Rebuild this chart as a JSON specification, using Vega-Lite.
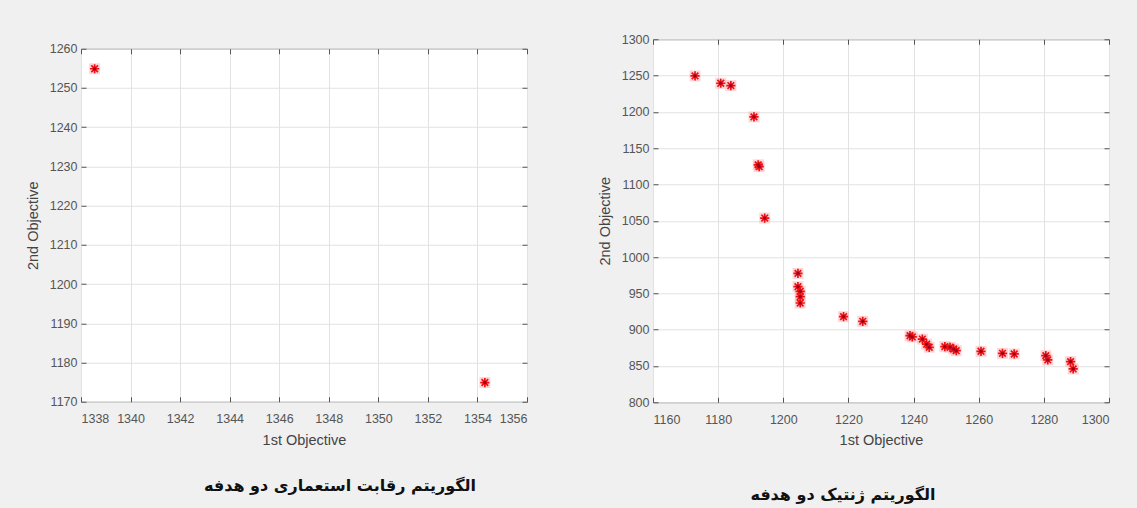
{
  "$schema": "https://vega.github.io/schema/vega-lite/v6.json",
  "background": "#f0f0f0",
  "padding": {"left": 24, "top": 32, "right": 27, "bottom": 5},
  "datasets": {
    "ica": [
      {"obj1": 1338.55, "obj2": 1254.9},
      {"obj1": 1354.3, "obj2": 1174.9}
    ],
    "ga": [
      {"obj1": 1172.9, "obj2": 1249.5},
      {"obj1": 1180.8, "obj2": 1239.4},
      {"obj1": 1183.9, "obj2": 1236.2},
      {"obj1": 1191.0, "obj2": 1193.1},
      {"obj1": 1192.3, "obj2": 1127.0},
      {"obj1": 1192.6, "obj2": 1124.5},
      {"obj1": 1194.3, "obj2": 1053.7},
      {"obj1": 1204.5, "obj2": 977.5},
      {"obj1": 1204.5, "obj2": 959.2},
      {"obj1": 1205.2, "obj2": 952.8},
      {"obj1": 1205.2, "obj2": 945.4},
      {"obj1": 1205.2, "obj2": 936.7},
      {"obj1": 1218.5, "obj2": 917.9},
      {"obj1": 1224.4, "obj2": 911.5},
      {"obj1": 1238.9, "obj2": 891.7},
      {"obj1": 1239.6, "obj2": 890.0},
      {"obj1": 1242.7, "obj2": 887.0},
      {"obj1": 1244.0, "obj2": 880.0},
      {"obj1": 1244.8, "obj2": 875.7},
      {"obj1": 1249.6, "obj2": 876.6},
      {"obj1": 1251.2, "obj2": 875.7},
      {"obj1": 1252.3, "obj2": 873.4},
      {"obj1": 1253.1, "obj2": 871.0},
      {"obj1": 1260.7, "obj2": 870.2},
      {"obj1": 1267.3, "obj2": 867.4},
      {"obj1": 1270.9, "obj2": 866.5},
      {"obj1": 1280.6, "obj2": 864.2},
      {"obj1": 1281.2, "obj2": 858.3},
      {"obj1": 1288.2, "obj2": 856.0},
      {"obj1": 1289.0, "obj2": 845.9}
    ]
  },
  "spacing": 68,
  "center": true,
  "hconcat": [
    {
      "width": 446,
      "height": 353,
      "data": {"name": "ica"},
      "title": {"text": "الگوریتم رقابت استعماری دو هدفه", "orient": "bottom", "offset": 31, "font": "DejaVu Sans", "fontSize": 16, "fontWeight": "bold", "color": "#111111", "dx": 36},
      "resolve": {"axis": {"x": "independent", "y": "independent"}},
      "layer": [
        {
          "mark": {"type": "point", "shape": "square", "filled": true, "color": "#ffb3b8", "opacity": 0.55, "size": 120},
          "encoding": {
            "x": {"field": "obj1", "type": "quantitative", "scale": {"domain": [1338, 1356], "nice": false, "zero": false},
              "axis": {"title": "1st Objective", "values": [1338, 1340, 1342, 1344, 1346, 1348, 1350, 1352, 1354, 1356], "format": "d"}},
            "y": {"field": "obj2", "type": "quantitative", "scale": {"domain": [1170, 1260], "nice": false, "zero": false},
              "axis": {"title": "2nd Objective", "values": [1170, 1180, 1190, 1200, 1210, 1220, 1230, 1240, 1250, 1260], "format": "d"}}
          }
        },
        {
          "mark": {"type": "point", "shape": "M-1,0L1,0M0,-1L0,1M-0.72,-0.72L0.72,0.72M-0.72,0.72L0.72,-0.72", "filled": false, "color": "#ee1111", "strokeWidth": 1.7, "size": 85, "opacity": 1},
          "encoding": {
            "x": {"field": "obj1", "type": "quantitative", "axis": {"orient": "top", "labels": false, "title": null, "grid": false, "domain": false, "values": [1338, 1340, 1342, 1344, 1346, 1348, 1350, 1352, 1354, 1356]}},
            "y": {"field": "obj2", "type": "quantitative", "axis": {"orient": "right", "labels": false, "title": null, "grid": false, "domain": false, "values": [1170, 1180, 1190, 1200, 1210, 1220, 1230, 1240, 1250, 1260]}}
          }
        },
        {
          "mark": {"type": "point", "shape": "circle", "filled": true, "color": "#9a0025", "size": 10, "opacity": 1},
          "encoding": {
            "x": {"field": "obj1", "type": "quantitative", "axis": null},
            "y": {"field": "obj2", "type": "quantitative", "axis": null}
          }
        }
      ]
    },
    {
      "width": 456,
      "height": 363,
      "data": {"name": "ga"},
      "title": {"text": "الگوریتم ژنتیک دو هدفه", "orient": "bottom", "offset": 40, "font": "DejaVu Sans", "fontSize": 16, "fontWeight": "bold", "color": "#111111", "dx": -38},
      "resolve": {"axis": {"x": "independent", "y": "independent"}},
      "layer": [
        {
          "mark": {"type": "point", "shape": "square", "filled": true, "color": "#ffb3b8", "opacity": 0.55, "size": 120},
          "encoding": {
            "x": {"field": "obj1", "type": "quantitative", "scale": {"domain": [1160, 1300], "nice": false, "zero": false},
              "axis": {"title": "1st Objective", "values": [1160, 1180, 1200, 1220, 1240, 1260, 1280, 1300], "format": "d"}},
            "y": {"field": "obj2", "type": "quantitative", "scale": {"domain": [800, 1300], "nice": false, "zero": false},
              "axis": {"title": "2nd Objective", "values": [800, 850, 900, 950, 1000, 1050, 1100, 1150, 1200, 1250, 1300], "format": "d"}}
          }
        },
        {
          "mark": {"type": "point", "shape": "M-1,0L1,0M0,-1L0,1M-0.72,-0.72L0.72,0.72M-0.72,0.72L0.72,-0.72", "filled": false, "color": "#ee1111", "strokeWidth": 1.7, "size": 85, "opacity": 1},
          "encoding": {
            "x": {"field": "obj1", "type": "quantitative", "axis": {"orient": "top", "labels": false, "title": null, "grid": false, "domain": false, "values": [1160, 1180, 1200, 1220, 1240, 1260, 1280, 1300]}},
            "y": {"field": "obj2", "type": "quantitative", "axis": {"orient": "right", "labels": false, "title": null, "grid": false, "domain": false, "values": [800, 850, 900, 950, 1000, 1050, 1100, 1150, 1200, 1250, 1300]}}
          }
        },
        {
          "mark": {"type": "point", "shape": "circle", "filled": true, "color": "#9a0025", "size": 10, "opacity": 1},
          "encoding": {
            "x": {"field": "obj1", "type": "quantitative", "axis": null},
            "y": {"field": "obj2", "type": "quantitative", "axis": null}
          }
        }
      ]
    }
  ],
  "config": {
    "font": "Liberation Sans",
    "view": {"stroke": "#7a7a7a", "strokeWidth": 1, "fill": "#ffffff"},
    "axis": {
      "labelFont": "Liberation Sans",
      "labelFontSize": 12.5,
      "labelColor": "#555555",
      "titleFont": "Liberation Sans",
      "titleFontSize": 14.5,
      "titleFontWeight": "normal",
      "titleColor": "#444444",
      "gridColor": "#e2e2e2",
      "gridWidth": 1,
      "domain": false,
      "tickColor": "#555555",
      "tickSize": -5
    },
    "axisX": {"labelPadding": 16, "titlePadding": 8},
    "axisY": {"labelPadding": 9, "titlePadding": 9}
  }
}
